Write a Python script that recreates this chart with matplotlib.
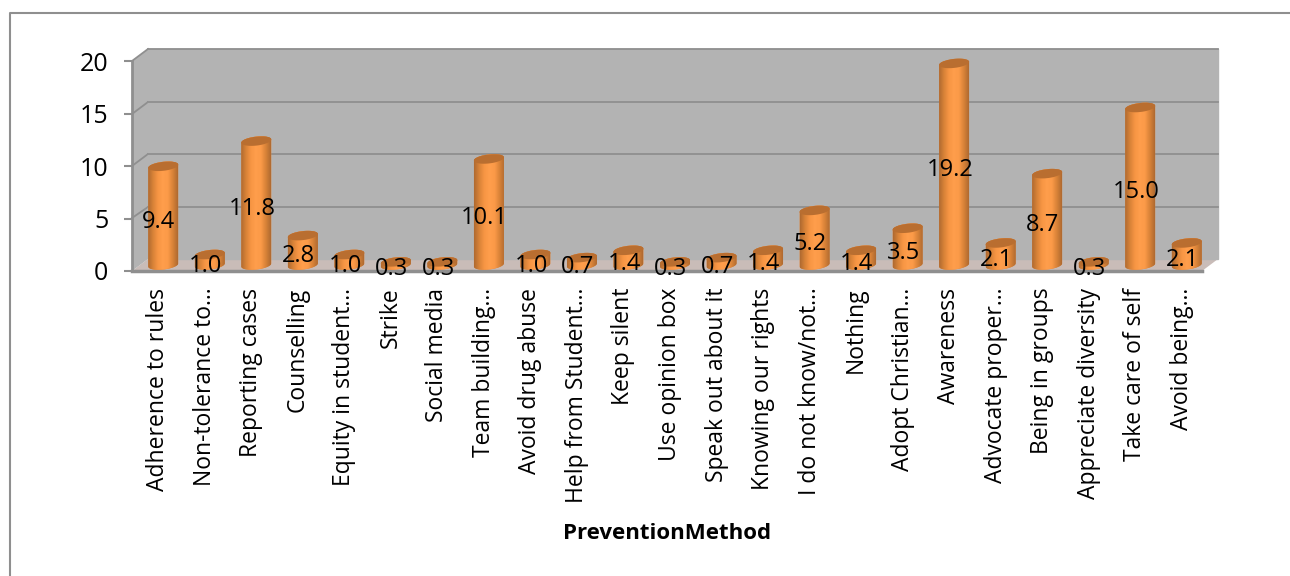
import numpy as np
import matplotlib
matplotlib.use('Agg')
import matplotlib.pyplot as plt
from matplotlib.colors import LinearSegmentedColormap
from matplotlib.patches import Polygon
from matplotlib.transforms import Affine2D

# values
methods = ['Adherence to rules', 'Non-tolerance to…', 'Reporting cases', 'Counselling',
           'Equity in student…', 'Strike', 'Social media', 'Team building…',
           'Avoid drug abuse', 'Help from Student…', 'Keep silent', 'Use opinion box',
           'Speak out about it', 'Knowing our rights', 'I do not know/not…', 'Nothing',
           'Adopt Christian…', 'Awareness', 'Advocate proper…', 'Being in groups',
           'Appreciate diversity', 'Take care of self', 'Avoid being…']
percent = [9.4, 1.0, 11.8, 2.8, 1.0, 0.3, 0.3, 10.1, 1.0, 0.7, 1.4, 0.3, 0.7, 1.4,
           5.2, 1.4, 3.5, 19.2, 2.1, 8.7, 0.3, 15.0, 2.1]
y_ticks = [0, 5, 10, 15, 20]

plt.rcParams['font.family'] = ['Open Sans', 'DejaVu Sans']

W, H = 1290, 576
fig = plt.figure(figsize=(W / 100, H / 100), dpi=100)
ax = fig.add_axes([132 / W, 1 - 271 / H, 1070 / W, 210 / H])
ax.set_zorder(4)
ax.set_xlim(-0.5, len(methods) - 0.5)
ax.set_ylim(0, 20)
ax.set_facecolor('none')

# the 3d look: back wall and bars are the front plane shifted in pixels
back = ax.transData + Affine2D().translate(16, 12)
mid = ax.transData + Affine2D().translate(8, 6)

x0, x1 = ax.get_xlim()
ax.fill([x0, x1, x1, x0], [0, 0, 20, 20], color='#b3b3b3', transform=back, zorder=0, clip_on=False)
for t in y_ticks[1:]:
    ax.plot([x0, x1], [t, t], color='#8f8f8f', lw=1.3, transform=back, zorder=1, clip_on=False)

# floor and side wall, built from the front and back corners in pixels
def to_fig(px, py):
    return px / W, 1 - py / H

fig.add_artist(Polygon([to_fig(132, 271), to_fig(148, 259), to_fig(1218, 259), to_fig(1202, 271)],
                       transform=fig.transFigure, fc='#c9bcb8', ec='none', zorder=3))
fig.add_artist(Polygon([to_fig(132, 61), to_fig(148, 49), to_fig(148, 259), to_fig(132, 271)],
                       transform=fig.transFigure, fc='#b3b3b3', ec='none', zorder=3))
for a, b in [((132, 114), (148, 102)), ((132, 166), (148, 154)), ((132, 218), (148, 207)), ((132, 61), (148, 49))]:
    fig.add_artist(plt.Line2D(*zip(to_fig(*a), to_fig(*b)), color='#8f8f8f', lw=1.3, zorder=3.5))

for s in ['top', 'right']:
    ax.spines[s].set_visible(False)
ax.spines['left'].set_color('#8f8f8f')
ax.spines['left'].set_linewidth(2)
ax.spines['bottom'].set_color('#8f8f8f')
ax.spines['bottom'].set_linewidth(2.5)

# outer chart frame
fig.add_artist(plt.Line2D([10 / W, 10 / W, 1], [0, 1 - 13 / H, 1 - 13 / H], color='#8f8f8f', lw=1.5))

shade = LinearSegmentedColormap.from_list('cyl', ['#b06a30', '#d98338', '#f79644', '#ff9e4c', '#fb9a48', '#d98338', '#b06a30'])
grad = np.linspace(0, 1, 64).reshape(1, -1)

unit_x = 1070 / len(methods)
unit_y = 10.5
half_w = 15 / unit_x
half_h = 4.5 / unit_y
tilt = 1.6 / unit_y
t = np.linspace(0, 2 * np.pi, 60)

for i, v in enumerate(percent):
    ex = half_w * np.cos(t)
    ey = half_h * np.sin(t) + tilt * np.cos(t)
    lower = t[(t >= np.pi) & (t <= 2 * np.pi)]
    upper = t[t <= np.pi]
    # body outline: bottom edge of the base then top edge of the lid
    bx = np.r_[i + half_w * np.cos(lower), i + half_w * np.cos(upper)]
    by = np.r_[half_h * np.sin(lower) + tilt * np.cos(lower),
               v + half_h * np.sin(upper) + tilt * np.cos(upper)]
    body = Polygon(np.c_[bx, by], transform=mid, fc='#d9823a', ec='none', zorder=3, clip_on=False)
    ax.add_patch(body)
    im = ax.imshow(grad, cmap=shade, aspect='auto', zorder=3.1, interpolation='bilinear',
                   extent=[i - half_w, i + half_w, -1, v + 1])
    im.set_transform(mid)
    im.set_clip_path(body)
    ax.add_patch(Polygon(np.c_[i + ex, v + ey], transform=mid, fc='#b96e30', ec='none', zorder=3.2, clip_on=False))

ax.set_xlim(x0, x1)
ax.set_ylim(0, 20)

for i, v in enumerate(percent):
    ax.text(i + 0.08, v / 2, f'{v:.1f}', ha='center', va='center', fontsize=17, color='black', zorder=5, clip_on=False)

ax.set_yticks(y_ticks)
ax.set_yticklabels([str(t) for t in y_ticks], fontsize=18)
ax.tick_params(axis='y', length=6, width=1.5, color='#8f8f8f', pad=11)
ax.set_xticks(range(len(methods)))
ax.set_xticklabels(methods, rotation=90, fontsize=16.5, ha='center', va='top')
ax.tick_params(axis='x', length=0, pad=12)
# nudge the rotated labels right a little
for lab in ax.get_xticklabels():
    lab.set_transform(lab.get_transform() + Affine2D().translate(3, 0))
ax.set_xlabel('PreventionMethod', fontweight='bold', fontsize=16, va='center')
ax.xaxis.set_label_coords(0.5, -1.248)

fig.savefig('out.png', dpi=100)
